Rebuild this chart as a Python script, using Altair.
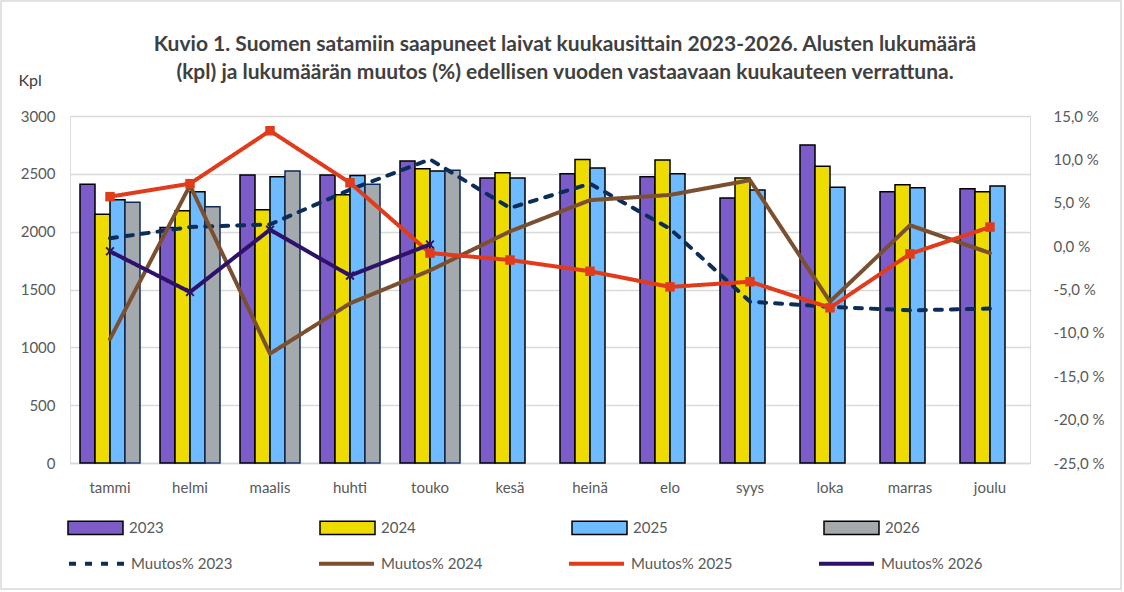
import altair as alt
import pandas as pd

FONT = "Lato"

months = ["tammi", "helmi", "maalis", "huhti", "touko", "kesä",
          "heinä", "elo", "syys", "loka", "marras", "joulu"]
years = ["2023", "2024", "2025", "2026"]

ships_2023 = [2410, 2035, 2490, 2490, 2610, 2465, 2500, 2475, 2290, 2750, 2345, 2370]
ships_2024 = [2150, 2180, 2190, 2320, 2545, 2510, 2625, 2620, 2465, 2565, 2405, 2345]
ships_2025 = [2275, 2345, 2475, 2485, 2525, 2465, 2550, 2500, 2360, 2385, 2380, 2395]
ships_2026 = [2255, 2215, 2525, 2410, 2530]

series = ["Muutos% 2023", "Muutos% 2024", "Muutos% 2025", "Muutos% 2026"]
chg_2023 = [0.9, 2.2, 2.5, 6.5, 10.0, 4.4, 7.2, 2.0, -6.4, -7.0, -7.4, -7.2]
chg_2024 = [-10.7, 7.0, -12.4, -6.6, -2.8, 1.7, 5.3, 5.9, 7.6, -6.4, 2.4, -0.8]
chg_2025 = [5.7, 7.2, 13.3, 7.3, -0.8, -1.6, -2.9, -4.7, -4.1, -7.1, -0.9, 2.2]
chg_2026 = [-0.6, -5.3, 1.9, -3.4, 0.2]

left_ticks = [0, 500, 1000, 1500, 2000, 2500, 3000]
right_ticks = [-25, -20, -15, -10, -5, 0, 5, 10, 15]

bar_colors = ["#7B5CC8", "#EEDC00", "#6FBBFF", "#A3A9AD"]
line_colors = ["#0B2D57", "#7A5030", "#E03C1C", "#2E1168"]

bar_rows = []
for y, vals in zip(years, [ships_2023, ships_2024, ships_2025, ships_2026]):
    for m, v in zip(months, vals):
        bar_rows.append({"kk": m, "vuosi": y, "kpl": v})
bar_df = pd.DataFrame(bar_rows)

line_rows = []
for s, vals in zip(series, [chg_2023, chg_2024, chg_2025, chg_2026]):
    for m, v in zip(months, vals):
        line_rows.append({"kk": m, "sarja": s, "muutos": v})
line_df = pd.DataFrame(line_rows)

xscale = alt.Scale(domain=months, paddingInner=0, paddingOuter=0)
xaxis = alt.Axis(title=None, labelAngle=0, labelFontSize=15, labelFont=FONT,
                 labelColor="#595959", labelPadding=17, ticks=False,
                 domain=True, domainColor="#D9D9D9", domainWidth=1.5)
xenc = alt.X("kk:N", sort=months, scale=xscale, axis=xaxis)

line_legend = alt.Legend(title=None, orient="none", legendX=-3, legendY=418,
                         direction="horizontal", columns=4, columnPadding=78,
                         symbolType="stroke", symbolSize=3025, symbolStrokeWidth=4,
                         labelFontSize=15, labelFont=FONT, labelColor="#595959",
                         labelOffset=5)

frame = alt.Chart(pd.DataFrame({"k": [0]})).mark_rect(
    fill="transparent", stroke="#D9D9D9", strokeWidth=1.5
).encode(x=alt.value(-69), x2=alt.value(1051), y=alt.value(-115), y2=alt.value(473))

bars = alt.Chart(bar_df).mark_bar(strokeWidth=1.5).encode(
    x=xenc,
    xOffset=alt.XOffset("vuosi:N", scale=alt.Scale(domain=years, paddingInner=0, paddingOuter=0.667)),
    y=alt.Y("kpl:Q", scale=alt.Scale(domain=[0, 3000], nice=False),
            axis=alt.Axis(values=left_ticks, format="d", title="Kpl", titleAngle=0, titleX=-52, titleY=-36,
                          titleAlign="left", titleBaseline="middle", titleFontSize=16,
                          titleFontWeight="normal", titleColor="#404040", titleFont=FONT,
                          labelFontSize=15, labelFont=FONT, labelColor="#595959", labelPadding=15,
                          ticks=False, domain=False, grid=True, gridColor="#D9D9D9", gridWidth=1.5)),
    fill=alt.Fill("vuosi:N", scale=alt.Scale(domain=years, range=bar_colors),
                  legend=alt.Legend(title=None, orient="none", legendX=-3, legendY=383,
                                    direction="horizontal", columns=4, columnPadding=153,
                                    symbolType="M-1,-0.24H1V0.24H-1Z", symbolSize=3025,
                                    symbolStrokeColor="black", symbolStrokeWidth=1.5,
                                    symbolOpacity=1, labelFontSize=15, labelFont=FONT,
                                    labelColor="#595959", labelOffset=5)),
    stroke=alt.condition("datum.vuosi == '2026'", alt.value("#0E2A5C"), alt.value("#000000")),
)

lines = alt.Chart(line_df).mark_line(strokeWidth=4, strokeJoin="round", strokeCap="round").encode(
    x=xenc,
    y=alt.Y("muutos:Q", scale=alt.Scale(domain=[-25, 15], nice=False),
            axis=alt.Axis(orient="right", values=right_ticks, title=None, grid=False,
                          domain=False, ticks=False, labelAlign="left", labelPadding=23,
                          labelFontSize=15, labelFont=FONT, labelColor="#595959",
                          labelExpr="(datum.value < 0 ? '-' : '') + replace(format(abs(datum.value), '.1f'), '.', ',') + ' %'")),
    stroke=alt.Stroke("sarja:N", scale=alt.Scale(domain=series, range=line_colors), legend=line_legend),
    strokeDash=alt.StrokeDash("sarja:N", scale=alt.Scale(domain=series, range=[[7, 9], [1, 0], [1, 0], [1, 0]]),
                              legend=line_legend),
)

pts25 = alt.Chart(line_df).transform_filter("datum.sarja == 'Muutos% 2025'").mark_point(
    shape="square", filled=True, size=90, color="#E03C1C", opacity=1
).encode(x=xenc, y=alt.Y("muutos:Q"))

pts26 = alt.Chart(line_df).transform_filter("datum.sarja == 'Muutos% 2026'").mark_point(
    shape="M-1,-1L1,1M-1,1L1,-1", filled=False, size=60, color="#2E1168", strokeWidth=1.8, opacity=1
).encode(x=xenc, y=alt.Y("muutos:Q"))

chart = alt.layer(frame, bars, alt.layer(lines, pts25, pts26)).resolve_scale(y="independent").properties(
    width=960, height=347,
    padding={"left": 70, "top": 116, "right": 94, "bottom": 129},
    autosize=alt.AutoSizeParams(type="none"),
    title=alt.Title(["Kuvio  1. Suomen satamiin saapuneet laivat kuukausittain 2023-2026. Alusten lukumäärä",
                     "(kpl) ja lukumäärän muutos (%) edellisen vuoden vastaavaan  kuukauteen verrattuna."],
                    fontSize=21, fontWeight="bold", color="#404040", font=FONT, anchor="middle",
                    lineHeight=28, offset=10, dx=15, dy=93),
).configure_view(stroke=None).configure(background="white")

chart.save("out.html", embed_options={"renderer": "svg", "actions": False})
